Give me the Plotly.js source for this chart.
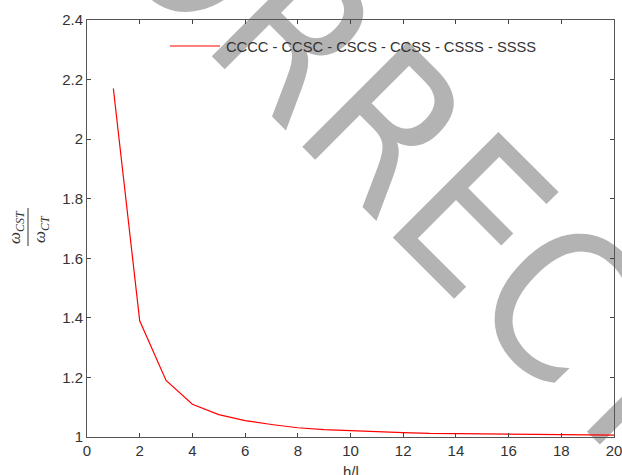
<!DOCTYPE html>
<html>
<head>
<meta charset="utf-8">
<script src="https://cdn.plot.ly/plotly-3.0.1.min.js"></script>
<style>html,body{margin:0;padding:0;background:#fff;}#chart{width:622px;height:475px;}</style>
</head>
<body>
<div id="chart"></div>
<script>
const hOverL = [1,2,3,4,5,6,7,8,9,10,11,12,13,14,15,16,17,18,19,20];
const ratio = [2.17,1.39,1.19,1.11,1.075,1.055,1.042,1.031,1.025,1.021,1.017,1.015,1.012,1.011,1.010,1.008,1.007,1.007,1.006,1.006];
const seriesName = 'CCCC - CCSC - CSCS - CCSS - CSSS - SSSS';
const xTicks = [0,2,4,6,8,10,12,14,16,18,20];
const yTicks = [1,1.2,1.4,1.6,1.8,2,2.2,2.4];
const yTickText = ['1','1.2','1.4','1.6','1.8','2','2.2','2.4'];
const watermark = 'CORRECT';

const tickFont = {family:'Liberation Sans, Arial, sans-serif', size:15, color:'#333'};
const axisCommon = {
  showgrid:false, zeroline:false, showline:true, linecolor:'#555', linewidth:1,
  mirror:'ticks', ticks:'inside', ticklen:4, tickcolor:'#444', tickwidth:1,
  tickfont:tickFont, ticklabeloverflow:'allow'
};
const lineColor = 'rgb(255,0,0)';
const data = [{
  x:hOverL, y:ratio, type:'scatter', mode:'lines', name:seriesName,
  line:{color:lineColor, width:1.2}
}];
const W = 622, H = 475, L = 87, R = 8, T = 20, B = 38;
const pw = W - L - R, ph = H - T - B;
function px(x){ return (x - L) / pw; }
function py(y){ return (H - B - y) / ph; }
const wcx = 380, wcy = 103;
const layout = {
  width:W, height:H,
  margin:{l:L, r:R, t:T, b:B},
  paper_bgcolor:'#fff', plot_bgcolor:'#fff',
  showlegend:false,
  xaxis:Object.assign({}, axisCommon, {range:[0,20], tickvals:xTicks, ticktext:xTicks.map(String)}),
  yaxis:Object.assign({}, axisCommon, {range:[1,2.4], tickvals:yTicks, ticktext:yTickText}),
  shapes:[
    {type:'line', xref:'paper', yref:'paper', x0:px(28), x1:px(28), y0:py(208), y1:py(246),
     line:{color:'#333', width:1}},
    {type:'line', xref:'paper', yref:'paper', x0:px(170), x1:px(220), y0:py(46), y1:py(46),
     line:{color:lineColor, width:1.2}},
    {type:'line', xref:'paper', yref:'paper', layer:'below',
     x0:px(wcx-10), y0:py(wcy-10), x1:px(wcx+10), y1:py(wcy+10),
     line:{color:'rgba(0,0,0,0)', width:0},
     label:{text:watermark, textangle:45, textposition:'middle', xanchor:'center', yanchor:'middle', padding:0,
       font:{family:'Liberation Sans Narrow, DejaVu Sans Condensed, Liberation Sans, sans-serif', size:205, color:'#b3b3b3'}}}
  ],
  annotations:[
    {xref:'paper', yref:'paper', x:px(224), y:py(47), xanchor:'left', yanchor:'middle', showarrow:false,
     text:seriesName, font:{family:'Liberation Sans, Arial, sans-serif', size:14.7, color:'#333'}},
    {xref:'paper', yref:'paper', x:px(16), y:py(227), xanchor:'center', yanchor:'middle', showarrow:false,
     textangle:-90, text:'<i>ω<sub>CST</sub></i>', font:{family:'Liberation Serif, serif', size:17, color:'#333'}},
    {xref:'paper', yref:'paper', x:px(41), y:py(229), xanchor:'center', yanchor:'middle', showarrow:false,
     textangle:-90, text:'<i>ω<sub>CT</sub></i>', font:{family:'Liberation Serif, serif', size:17, color:'#333'}},
    {xref:'paper', yref:'paper', x:0.5, y:py(471), xanchor:'center', yanchor:'middle', showarrow:false,
     text:'h/l', font:{family:'Liberation Sans, Arial, sans-serif', size:15, color:'#333'}}
  ]
};
Plotly.newPlot('chart', data, layout, {displayModeBar:false, staticPlot:true});
</script>
</body>
</html>
